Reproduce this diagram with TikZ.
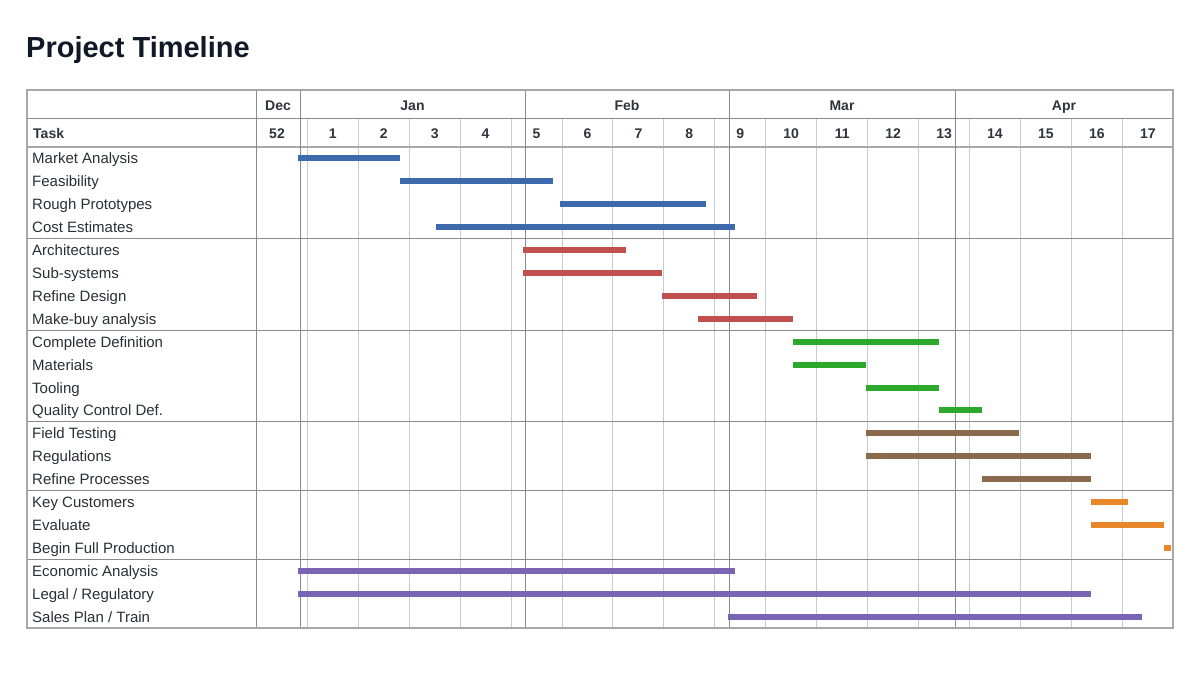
\documentclass[tikz,border=0pt]{standalone}
\usepackage{fontspec}
\setmainfont{Liberation Sans}
\definecolor{titlecol}{HTML}{111827}
\definecolor{textgray}{HTML}{2B2F36}
\definecolor{headgray}{HTML}{30343C}
\definecolor{darkline}{HTML}{8A8A92}
\definecolor{lightline}{HTML}{C9C9D1}
\definecolor{borderline}{HTML}{A8A8AC}
\definecolor{cblue}{HTML}{3D69AD}
\definecolor{cred}{HTML}{C0504D}
\definecolor{cgreen}{HTML}{2CA82C}
\definecolor{cbrown}{HTML}{8A6A4C}
\definecolor{corange}{HTML}{E8862A}
\definecolor{cpurple}{HTML}{7A64B4}
\begin{document}
\begin{tikzpicture}[x=1pt,y=-1pt,
  tasklabel/.style={anchor=base west, inner sep=0pt, font=\fontsize{15}{18}\selectfont, text=textgray},
  headlabel/.style={anchor=base, inner sep=0pt, font=\bfseries\fontsize{14}{17}\selectfont, text=headgray},
  monthline/.style={draw=darkline, line width=1pt},
  weekline/.style={draw=lightline, line width=1pt},
  groupline/.style={draw=darkline, line width=1pt},
  ganttbar/.style={line width=6pt, line cap=butt},
]
\useasboundingbox (0,0) rectangle (1200,675);
\fill[white] (0,0) rectangle (1200,675);

% title
\node[anchor=base west, inner sep=0pt, font=\bfseries\fontsize{29}{34}\selectfont, text=titlecol] (title) at (26,57) {Project Timeline};

% week lines
\foreach \k in {0,...,16}{
  \draw[weekline] ({307.3+50.94*\k},118) -- ({307.3+50.94*\k},628);
}
% horizontal lines
\draw[groupline] (27,118) -- (1173,118);
\draw[draw=borderline, line width=1.6pt] (27,147) -- (1173,147);
\foreach \g in {4,8,12,15,18}{
  \draw[groupline] (27,{147+22.905*\g}) -- (1173,{147+22.905*\g});
}
% month lines
\foreach \mx in {256,300,525,729,955}{
  \draw[monthline] (\mx,90) -- (\mx,628);
}
% border
\draw[draw=borderline, line width=1.6pt] (27,90) rectangle (1173,628);

% header texts
\node[headlabel] (hdec) at (278,110) {Dec};
\node[headlabel] (hjan) at (412.5,110) {Jan};
\node[headlabel] (hfeb) at (627,110) {Feb};
\node[headlabel] (hmar) at (842,110) {Mar};
\node[headlabel] (hapr) at (1064,110) {Apr};
\node[headlabel, anchor=base west] (htask) at (33,138) {Task};
\node[headlabel] (w52) at (277,138) {52};
\foreach \n in {1,...,17}{
  \node[headlabel] (w\n) at ({307.3+50.94*(\n-1)+25.47},138) {\n};
}

% task names
\foreach \name [count=\i from 0] in {Market Analysis,Feasibility,Rough Prototypes,Cost Estimates,Architectures,Sub-systems,Refine Design,Make-buy analysis,Complete Definition,Materials,Tooling,Quality Control Def.,Field Testing,Regulations,Refine Processes,Key Customers,Evaluate,Begin Full Production,Economic Analysis,Legal / Regulatory,Sales Plan / Train}{
  \node[tasklabel] (t\i) at (32,{147+22.905*(\i+0.5)+5.5}) {\name};
}

% bars
\foreach \r/\a/\b/\c in {
  0/298/400/cblue, 1/400/553/cblue, 2/560/706/cblue, 3/436/735/cblue,
  4/523/626/cred, 5/523/662/cred, 6/662/757/cred, 7/698/793/cred,
  8/793/939/cgreen, 9/793/866/cgreen, 10/866/939/cgreen, 11/939/982/cgreen,
  12/866/1019/cbrown, 13/866/1091/cbrown, 14/982/1091/cbrown,
  15/1091/1128/corange, 16/1091/1164/corange, 17/1164/1171/corange,
  18/298/735/cpurple, 19/298/1091/cpurple, 20/728/1142/cpurple}{
  \draw[ganttbar, \c] (\a,{147+22.905*(\r+0.5)}) -- (\b,{147+22.905*(\r+0.5)});
}
\end{tikzpicture}
\end{document}
